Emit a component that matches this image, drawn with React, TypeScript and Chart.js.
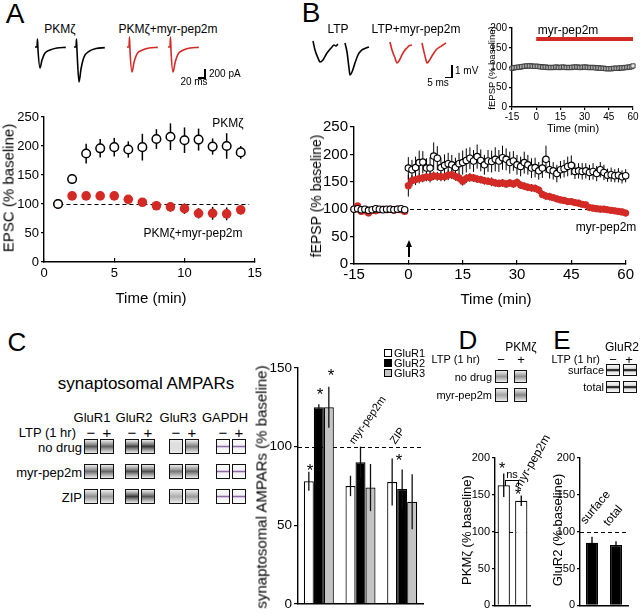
import React, { useEffect, useRef } from 'react';
import { Chart, registerables } from 'chart.js';

Chart.register(...registerables);

const FONT = "'Liberation Sans', Arial, Helvetica, sans-serif";
Chart.defaults.font.family = FONT;
Chart.defaults.color = '#000';
const RED = '#d42a26';

// ---------------- Panel A data ----------------
const aTime = [1, 2, 3, 4, 5, 6, 7, 8, 9, 10, 11, 12, 13, 14];
const aPkm = [100, 143, 187, 196, 198, 194, 198, 212, 216, 210, 211, 199, 200, 189];
const aPkmErr = [0, 0, 17, 16, 16, 14, 23, 17, 23, 22, 19, 14, 22, 11];
const aPep = [100, 114, 114, 114, 114, 108, 103, 97, 95, 92, 84, 84, 83, 90];
const aPepErr = [0, 2, 2, 2, 2, 3, 4, 5, 8, 9, 9, 11, 11, 8];

// EPSC traces (ms, pA)
const epscT = [0, 5.7, 7.1, 8.6, 14.3, 20, 28.6, 42.9, 62.9, 88];
const epscPkmBase = [0, 0, 200, -75, -525, -325, -150, -75, -25, -10];
const epscPkmLtp = [0, 0, 200, -100, -875, -550, -250, -110, -40, -15];
const epscPepBase = [0, 0, 250, -100, -625, -380, -170, -80, -25, -10];
const epscPepLtp = [0, 0, 250, -100, -625, -400, -180, -80, -25, -10];

// ---------------- Panel B data ----------------
const bTime = [-15, -14, -13, -12, -11, -10, -9, -8, -7, -6, -5, -4, -3, -2, -1,
  0, 1, 2, 3, 4, 5, 6, 7, 8, 9, 10, 11, 12, 13, 14, 15, 16, 17, 18, 19, 20,
  21, 22, 23, 24, 25, 26, 27, 28, 29, 30, 31, 32, 33, 34, 35, 36, 37, 38, 39, 40,
  41, 42, 43, 44, 45, 46, 47, 48, 49, 50, 51, 52, 53, 54, 55, 56, 57, 58, 59, 60];
const bLtp = [100, 101, 99, 100, 98, 99, 101, 100, 99, 100, 100, 99, 100, 101, 99,
  175, 172, 176, 185, 186, 175, 175, 197, 193, 176,
  180, 183, 181, 176, 183, 185, 189, 193, 188, 196,
  189, 181, 188, 187, 191, 188, 194, 191, 185, 188,
  181, 178, 185, 181, 175, 176, 170, 175, 191, 172,
  170, 165, 172, 174, 178, 180, 169, 170, 169, 170,
  167, 169, 165, 172, 167, 162, 163, 161, 162, 159, 161];
const bLtpErr = [3, 3, 3, 3, 3, 3, 3, 3, 3, 3, 3, 3, 3, 3, 3,
  20, 18, 20, 22, 20, 18, 20, 25, 22, 18,
  20, 20, 18, 18, 20, 22, 22, 20, 20, 22,
  20, 18, 20, 20, 22, 20, 22, 20, 20, 18,
  18, 18, 20, 18, 18, 18, 16, 18, 25, 16,
  16, 16, 16, 16, 18, 18, 14, 14, 15, 14,
  14, 15, 14, 14, 14, 12, 13, 12, 13, 12, 12];
const bPep = [100, 106, 96, 97, 93, 98, 97, 99, 100, 99, 100, 98, 100, 99, 96,
  143, 152, 154, 156, 157, 159, 158, 161, 160, 159,
  159, 162, 163, 160, 157, 151, 156, 158, 157, 155,
  154, 152, 151, 150, 148, 147, 148, 146, 148, 146,
  149, 144, 142, 140, 139, 138, 135, 127, 124, 123,
  121, 119, 117, 116, 114, 114, 112, 111, 109, 108,
  103, 102, 101, 100, 100, 99, 98, 97, 96, 95, 93];
const bPepErr = [4, 4, 4, 4, 4, 3, 3, 3, 3, 3, 3, 3, 3, 3, 4,
  20, 10, 10, 9, 8, 8, 9, 8, 8, 8,
  8, 9, 8, 8, 8, 8, 8, 8, 7, 7,
  7, 7, 7, 8, 7, 7, 7, 7, 7, 7,
  7, 7, 7, 7, 7, 7, 7, 7, 7, 7,
  6, 6, 6, 6, 6, 6, 6, 6, 6, 6,
  6, 6, 6, 6, 6, 6, 6, 6, 6, 6, 6];
const bCtrl = [98, 99, 100, 100, 101, 101, 102, 103, 103, 104, 104, 104, 104, 103, 103,
  103, 103, 102, 102, 101, 101, 101, 100, 100, 100,
  100, 100, 101, 101, 100, 100, 101, 101, 100, 100,
  100, 100, 100, 101, 101, 101, 101, 100, 100, 101,
  101, 101, 100, 100, 100, 100, 100, 99, 99, 99,
  98, 98, 98, 97, 97, 97, 97, 97, 98, 98,
  98, 98, 99, 99, 99, 100, 100, 101, 101, 102, 104];
const bDrugBar = [{ x: 0, y: 172 }, { x: 60, y: 172 }];

// fEPSP traces (ms, mV)
const fT1 = [0, 1.5, 3.75, 5.25, 7.5, 10.5, 14.25, 15.75, 17.25, 18.75];
const fV1 = [0, -0.75, -1.42, -1.75, -1.58, -1, -0.5, -0.33, -0.42, -0.25];
const fT2 = [0, 1.5, 3, 3.75, 5.25, 7.5, 9.75, 12.75, 15.75, 18];
const fV2 = [0, -0.75, -2.08, -2.67, -2.42, -1.67, -1, -0.58, -0.42, -0.33];
const fT3 = [0, 1.5, 3.75, 5.25, 6.75, 9, 11.25, 12.75, 14.25, 16.5];
const fV3 = [0, -0.67, -1.33, -1.75, -1.58, -1.08, -0.67, -0.5, -0.33, -0.25];
const fT4 = [0, 1.5, 3, 3.75, 5.25, 7.5, 10.5, 13.5, 15.75, 18];
const fV4 = [0, -0.75, -1.42, -1.67, -1.5, -1.08, -0.58, -0.33, -0.17, 0];

// ---------------- Panel C data ----------------
const cGroups = ['no drug', 'myr-pep2m', 'ZIP'];
const cGluR1 = [78, 75, 77.5];
const cGluR1Err = [6, 6.5, 15];
const cGluR2 = [125, 90, 73];
const cGluR2Err = [2, 10, 12.5];
const cGluR3 = [125, 74, 65];
const cGluR3Err = [13, 15, 17.5];

// ---------------- Panel D / E data ----------------
const dGroups = ['no drug', 'myr-pep2m'];
const dPkm = [163, 142];
const dPkmErr = [16, 7];
const eGroups = ['surface', 'total'];
const eGluR2 = [85, 82];
const eGluR2Err = [8, 5];

// ---------------- plugins ----------------
function drawErrors(chart: any, onTop: boolean) {
  const ctx = chart.ctx;
  chart.data.datasets.forEach((ds: any, i: number) => {
    const errs = ds.errors;
    if (!errs || !!ds.errorsOnTop !== onTop) return;
    const meta = chart.getDatasetMeta(i);
    const ys = chart.scales[meta.yAxisID];
    ctx.save();
    ctx.strokeStyle = ds.errorColor || '#000';
    ctx.lineWidth = ds.errorWidth || 1;
    meta.data.forEach((el: any, j: number) => {
      const e = errs[j];
      if (!e) return;
      const raw = ds.data[j];
      const v = typeof raw === 'number' ? raw : raw.y;
      const x = el.x;
      ctx.beginPath();
      ctx.moveTo(x, ys.getPixelForValue(v + e));
      ctx.lineTo(x, ys.getPixelForValue(v - e));
      ctx.stroke();
    });
    ctx.restore();
  });
}

const errorBars = {
  id: 'errorBars',
  beforeDatasetsDraw(chart: any) { drawErrors(chart, false); },
  afterDatasetsDraw(chart: any) { drawErrors(chart, true); },
};

const refLine = {
  id: 'refLine',
  beforeDatasetsDraw(chart: any, _args: any, opts: any) {
    if (!opts || opts.value === undefined) return;
    const { ctx, chartArea, scales } = chart;
    const y = Math.round(scales.y.getPixelForValue(opts.value)) + 0.5;
    const x0 = opts.from !== undefined ? scales.x.getPixelForValue(opts.from) : chartArea.left;
    const x1 = opts.to !== undefined ? scales.x.getPixelForValue(opts.to) : chartArea.right;
    ctx.save();
    ctx.strokeStyle = '#000';
    ctx.lineWidth = 1.2;
    ctx.setLineDash(opts.dash || [4, 3]);
    ctx.beginPath();
    ctx.moveTo(x0, y);
    ctx.lineTo(x1, y);
    ctx.stroke();
    ctx.restore();
  },
};

// ---------------- helpers ----------------
function yAxis(min: number, max: number, step: number, size: number, width: number, tl = 4, pad = 2) {
  return {
    type: 'linear', min, max,
    ticks: { stepSize: step, color: '#000', font: { family: FONT, size }, padding: pad },
    grid: { drawOnChartArea: false, drawTicks: true, tickLength: tl, color: '#000', lineWidth: 1.2 },
    border: { display: true, color: '#000', width: 1.4 },
    afterFit: (s: any) => { s.width = width; },
  };
}
function xLinear(min: number, max: number, step: number, size: number, height: number, tl = -4, pad = 8) {
  return {
    type: 'linear', min, max,
    ticks: { stepSize: step, color: '#000', font: { family: FONT, size }, padding: pad },
    grid: { drawOnChartArea: false, drawTicks: true, tickLength: tl, color: '#000', lineWidth: 1.2 },
    border: { display: true, color: '#000', width: 1.4 },
    afterFit: (s: any) => { s.height = height; },
  };
}
function xCat(height: number) {
  return {
    type: 'category',
    ticks: { display: false },
    grid: { display: false },
    border: { display: true, color: '#000', width: 1.4 },
    afterFit: (s: any) => { s.height = height; },
  };
}
const baseOpts = {
  responsive: false,
  maintainAspectRatio: false,
  animation: false,
  events: [],
  plugins: { legend: { display: false }, tooltip: { enabled: false } },
};

function pts(xs: number[], ys: number[]) {
  return xs.map((x, i) => ({ x, y: ys[i] }));
}

function ChartBox({ left, top, width, height, config }: any) {
  const ref = useRef<HTMLCanvasElement | null>(null);
  useEffect(() => {
    const c = new Chart(ref.current as any, config);
    return () => c.destroy();
  }, []);
  return (
    <canvas ref={ref} width={width} height={height}
      style={{ position: 'absolute', left, top, width, height }} />
  );
}

function Trace({ left, top, width, height, x0, y0, ppx, ppy, t, v, color, lw = 1.6 }: any) {
  const config = {
    type: 'line',
    data: {
      datasets: [{
        data: pts(t, v), borderColor: color, borderWidth: lw, pointRadius: 0,
        cubicInterpolationMode: 'monotone', clip: false,
      }],
    },
    options: {
      ...baseOpts,
      layout: { padding: 0 },
      scales: {
        x: { type: 'linear', display: false, min: -x0 / ppx, max: (width - x0) / ppx },
        y: { type: 'linear', display: false, min: -(height - y0) / ppy, max: y0 / ppy },
      },
    },
  };
  return <ChartBox left={left} top={top} width={width} height={height} config={config} />;
}

function T({ x, y, s = 12, a = 'c', rot = 0, children, style }: any) {
  const tx = a === 'c' ? '-50%' : a === 'r' ? '-100%' : '0';
  return (
    <div style={{
      position: 'absolute', left: x, top: y, fontFamily: FONT, fontSize: s, lineHeight: 1,
      whiteSpace: 'nowrap', color: '#000',
      transform: `translate(${tx},-50%) rotate(${rot}deg)`, ...style,
    }}>{children}</div>
  );
}

// asterisk positioned by its visual centre
function Star({ x, y, s = 17 }: any) {
  return <T x={x} y={y + s * 0.22} s={s}>*</T>;
}

function RotLabel({ x, y, s = 11, a = -55, children }: any) {
  return (
    <div style={{
      position: 'absolute', left: x, top: y - s, fontFamily: FONT, fontSize: s, lineHeight: 1,
      whiteSpace: 'nowrap', transformOrigin: '0% 100%', transform: `rotate(${a}deg)`,
    }}>{children}</div>
  );
}

function Line({ x, y, w, h }: any) {
  return <div style={{ position: 'absolute', left: x, top: y, width: w, height: h, background: '#000' }} />;
}

function Blot({ x, y, w = 14, h = 15, k = 0.6, kind = 'band' }: any) {
  let bg: string;
  if (kind === 'gapdh') {
    bg = 'linear-gradient(180deg, #fbfbfb 0%, #f3f1f4 38%, #c6acd4 46%, #8e67a6 50%, #c6acd4 55%, #f3f1f4 62%, #fbfbfb 100%)';
  } else if (kind === 'line') {
    bg = 'linear-gradient(180deg, #f6f6f6 0%, #e2e2e2 34%, #3a3a3a 44%, #111 50%, #3a3a3a 58%, #e2e2e2 68%, #f6f6f6 100%)';
  } else {
    const c = Math.round(250 - 215 * k);
    const m = Math.round(235 - 110 * k);
    bg = `linear-gradient(180deg, #ececec 0%, rgb(${m},${m},${m}) 30%, rgb(${c},${c},${c}) 50%, rgb(${m},${m},${m}) 70%, #ececec 100%)`;
  }
  return (
    <div style={{
      position: 'absolute', left: x, top: y, width: w, height: h, boxSizing: 'border-box',
      border: '1.6px solid #111', backgroundImage: bg,
    }} />
  );
}

// ---------------- charts ----------------
function PanelA() {
  const config = {
    type: 'scatter',
    data: {
      datasets: [
        {
          data: pts(aTime, aPkm), errors: aPkmErr, errorWidth: 1.5,
          pointRadius: 4.3, pointBackgroundColor: '#fff', pointBorderColor: '#000', pointBorderWidth: 1.5, clip: false,
        },
        {
          data: pts(aTime, aPep), errors: aPepErr, errorWidth: 1.5,
          pointRadius: 4.8, pointBackgroundColor: RED, pointBorderColor: RED, pointBorderWidth: 0, clip: false,
        },
      ],
    },
    options: {
      ...baseOpts,
      layout: { padding: { top: 17, right: 15, left: 0, bottom: 0 } },
      plugins: { ...baseOpts.plugins, refLine: { value: 100, from: 1.1, to: 14.6, dash: [4, 3] } },
      scales: {
        x: xLinear(0, 15, 5, 13, 48, -4, 8),
        y: yAxis(0, 250, 50, 13, 44, 3, 2),
      },
    },
    plugins: [errorBars, refLine],
  };
  return <ChartBox left={0} top={100} width={270} height={210} config={config} />;
}

function PanelB() {
  const config = {
    type: 'scatter',
    data: {
      datasets: [
        {
          data: pts(bTime, bLtp), errors: bLtpErr, errorWidth: 1,
          pointRadius: 3.2, pointBackgroundColor: '#fff', pointBorderColor: '#000', pointBorderWidth: 1.1, clip: false,
        },
        {
          data: pts(bTime, bPep), errors: bPepErr, errorWidth: 1,
          pointRadius: 3.6, pointBackgroundColor: RED, pointBorderColor: RED, pointBorderWidth: 0, clip: false,
        },
      ],
    },
    options: {
      ...baseOpts,
      layout: { padding: { top: 17, right: 7, left: 0, bottom: 0 } },
      plugins: { ...baseOpts.plugins, refLine: { value: 100, dash: [4, 3] } },
      scales: {
        x: xLinear(-15, 60, 15, 15, 46, -4, 6),
        y: yAxis(0, 250, 50, 15, 44, 4, 2),
      },
    },
    plugins: [errorBars, refLine],
  };
  return <ChartBox left={310} top={110} width={330} height={200} config={config} />;
}

function PanelBInset() {
  const config = {
    type: 'scatter',
    data: {
      datasets: [
        {
          type: 'line', data: bDrugBar, borderColor: RED, borderWidth: 4, pointRadius: 0, clip: false,
        },
        {
          data: pts(bTime, bCtrl), pointStyle: 'rect', pointRadius: 3,
          pointBackgroundColor: '#e4e4e4', pointBorderColor: '#333', pointBorderWidth: 0.9, clip: false,
        },
      ],
    },
    options: {
      ...baseOpts,
      layout: { padding: { top: 13, right: 7, left: 0, bottom: 0 } },
      scales: {
        x: xLinear(-15, 60, 15, 10, 18, 3, 1),
        y: yAxis(0, 200, 50, 10, 32, 3, 2),
      },
    },
  };
  return <ChartBox left={480} top={15} width={160} height={110} config={config} />;
}

function PanelC() {
  const bar = (data: number[], errs: number[], bg: string) => ({
    data, errors: errs, errorsOnTop: true, errorWidth: 1.3, errorColor: '#111',
    backgroundColor: bg, borderColor: '#000', borderWidth: 1.2,
    barPercentage: 1, categoryPercentage: 0.72,
  });
  const config = {
    type: 'bar',
    data: {
      labels: cGroups,
      datasets: [
        bar(cGluR1, cGluR1Err, '#ffffff'),
        bar(cGluR2, cGluR2Err, '#000000'),
        bar(cGluR3, cGluR3Err, '#c4c4c4'),
      ],
    },
    options: {
      ...baseOpts,
      layout: { padding: { top: 18, right: 7, left: 0, bottom: 0 } },
      plugins: { ...baseOpts.plugins, refLine: { value: 100, dash: [4, 3] } },
      scales: { x: xCat(7), y: yAxis(0, 150, 50, 13.5, 58, 4, 2) },
    },
    plugins: [errorBars, refLine],
  };
  return <ChartBox left={240} top={350} width={190} height={264} config={config} />;
}

function SmallBars({ left, width, yw, rp, labels, data, errs, bp, fill }: any) {
  const config = {
    type: 'bar',
    data: {
      labels,
      datasets: [{
        data, errors: errs, errorsOnTop: true, errorWidth: 1.3,
        backgroundColor: fill, borderColor: '#000', borderWidth: 1.2,
        barPercentage: bp, categoryPercentage: 1,
      }],
    },
    options: {
      ...baseOpts,
      layout: { padding: { top: 18, right: rp, left: 0, bottom: 0 } },
      plugins: { ...baseOpts.plugins, refLine: { value: 100, dash: [4, 3] } },
      scales: { x: xCat(7), y: yAxis(0, 200, 50, 11, yw, 3, 2) },
    },
    plugins: [errorBars, refLine],
  };
  return <ChartBox left={left} top={440} width={width} height={174} config={config} />;
}

// ---------------- app ----------------
const blotCols = [84, 100, 125, 141, 169, 185, 216, 232];
const blotRows = [439, 464, 489];
const blotK = [
  [0.75, 0.7, 0.85, 0.9, 0.12, 0.6],
  [0.65, 0.7, 0.8, 0.8, 0.6, 0.7],
  [0.5, 0.45, 0.9, 0.75, 0.35, 0.45],
];

export default function App() {
  return (
    <div style={{ position: 'absolute', left: 0, top: 0, width: 640, height: 614, background: '#fff', overflow: 'hidden' }}>
      {/* Panel letters */}
      <T x={15} y={14} s={28}>A</T>
      <T x={311} y={13} s={28}>B</T>
      <T x={17} y={342} s={26}>C</T>
      <T x={468} y={340} s={26}>D</T>
      <T x={562} y={340} s={26}>E</T>

      {/* ---------- A ---------- */}
      <T x={60} y={29} s={12}>PKMζ</T>
      <T x={168} y={29} s={12}>PKMζ+myr-pep2m</T>
      <Trace left={30} top={30} width={45} height={60} x0={5} y0={17} ppx={0.35} ppy={0.04} t={epscT} v={epscPkmBase} color="#000" />
      <Trace left={69} top={30} width={45} height={60} x0={5} y0={17} ppx={0.35} ppy={0.04} t={epscT} v={epscPkmLtp} color="#000" />
      <Trace left={122} top={30} width={45} height={60} x0={5} y0={17} ppx={0.35} ppy={0.04} t={epscT} v={epscPepBase} color={RED} />
      <Trace left={163} top={30} width={45} height={60} x0={5} y0={17} ppx={0.35} ppy={0.04} t={epscT} v={epscPepLtp} color={RED} />
      <Line x={204} y={69} w={1.5} h={9} />
      <Line x={198} y={77} w={7.5} h={1.5} />
      <T x={209} y={74} s={10} a="l">200 pA</T>
      <T x={194} y={82} s={10}>20 ms</T>
      <PanelA />
      <T x={228} y={123} s={12}>PKMζ</T>
      <T x={193} y={233} s={12}>PKMζ+myr-pep2m</T>
      <T x={8} y={188} s={15} rot={-90}>EPSC (% baseline)</T>
      <T x={151} y={297} s={15}>Time (min)</T>

      {/* ---------- B ---------- */}
      <T x={338} y={29} s={12}>LTP</T>
      <T x={416} y={29} s={12}>LTP+myr-pep2m</T>
      <Trace left={308} top={30} width={35} height={50} x0={5} y0={11} ppx={1.33} ppy={12} t={fT1} v={fV1} color="#000" />
      <Trace left={340} top={30} width={35} height={50} x0={5} y0={13} ppx={1.33} ppy={12} t={fT2} v={fV2} color="#000" />
      <Trace left={385} top={30} width={35} height={50} x0={5} y0={12} ppx={1.33} ppy={12} t={fT3} v={fV3} color={RED} />
      <Trace left={417} top={30} width={35} height={50} x0={5} y0={13} ppx={1.33} ppy={12} t={fT4} v={fV4} color={RED} />
      <Line x={451} y={65} w={1.5} h={13} />
      <Line x={445} y={76.5} w={7.5} h={1.5} />
      <T x={455} y={71} s={10} a="l">1 mV</T>
      <T x={438} y={83} s={10}>5 ms</T>
      <PanelBInset />
      <T x={568} y={30} s={12}>myr-pep2m</T>
      <T x={573} y={128} s={11}>Time (min)</T>
      <T x={492} y={68} s={9.5} rot={-90}>fEPSP (% baseline)</T>
      <PanelB />
      <T x={316} y={196} s={14} rot={-90}>fEPSP (% baseline)</T>
      <T x={496} y={298} s={15}>Time (min)</T>
      <T x={606} y={227} s={12}>myr-pep2m</T>
      <Line x={408.3} y={246} w={1.5} h={11} />
      <div style={{
        position: 'absolute', left: 405.5, top: 240, width: 0, height: 0,
        borderLeft: '3.5px solid transparent', borderRight: '3.5px solid transparent', borderBottom: '7px solid #000',
      }} />

      {/* ---------- C ---------- */}
      <T x={146} y={383} s={17}>synaptosomal AMPARs</T>
      <T x={92} y={417} s={13}>GluR1</T>
      <T x={134} y={417} s={13}>GluR2</T>
      <T x={178} y={417} s={13}>GluR3</T>
      <T x={225} y={417} s={13}>GAPDH</T>
      <T x={76} y={432} s={13} a="r">LTP (1 hr)</T>
      {blotCols.map((x, i) => (
        <T key={'s' + i} x={x + 7} y={432} s={15}>{i % 2 === 0 ? '−' : '+'}</T>
      ))}
      <T x={82} y={447} s={13} a="r">no drug</T>
      <T x={82} y={472} s={13} a="r">myr-pep2m</T>
      <T x={82} y={497} s={13} a="r">ZIP</T>
      {blotRows.map((y, r) => blotCols.map((x, c) => (
        <Blot key={r + '-' + c} x={x} y={y} k={c < 6 ? blotK[r][c] : 0} kind={c < 6 ? 'band' : 'gapdh'} />
      )))}
      <PanelC />
      <T x={261} y={487} s={15} rot={-90}>synaptosomal AMPARs (% baseline)</T>
      <Star x={310} y={466} />
      <Star x={320} y={390} />
      <Star x={331} y={371} />
      <Star x={399} y={456} />
      <RotLabel x={356} y={446} s={11} a={-55}>myr-pep2m</RotLabel>
      <RotLabel x={397} y={446} s={11} a={-55}>ZIP</RotLabel>
      {['#fff', '#000', '#c4c4c4'].map((c, i) => (
        <div key={'lg' + i} style={{
          position: 'absolute', left: 384, top: 349 + i * 10, width: 8, height: 8, boxSizing: 'border-box',
          border: '1px solid #000', background: c,
        }} />
      ))}
      <T x={394} y={353} s={11} a="l">GluR1</T>
      <T x={394} y={363} s={11} a="l">GluR2</T>
      <T x={394} y={373} s={11} a="l">GluR3</T>

      {/* ---------- D ---------- */}
      <T x={521} y={347} s={12}>PKMζ</T>
      <T x={480} y={359} s={11} a="r">LTP (1 hr)</T>
      <T x={501} y={359} s={13}>−</T>
      <T x={521} y={359} s={13}>+</T>
      <T x={492} y={377} s={11} a="r">no drug</T>
      <T x={492} y={395} s={11} a="r">myr-pep2m</T>
      <Blot x={495} y={370} w={13} h={13} k={0.45} />
      <Blot x={514} y={370} w={13} h={13} k={0.5} />
      <Blot x={495} y={388} w={13} h={14} k={0.4} />
      <Blot x={514} y={388} w={13} h={14} k={0.55} />
      <SmallBars left={470} width={70} yw={25} rp={10} labels={dGroups} data={dPkm} errs={dPkmErr} bp={0.7} fill="#ffffff" />
      <T x={466} y={530} s={13} rot={-90}>PKMζ (% baseline)</T>
      <T x={512} y={474} s={11}>ns</T>
      <Line x={505} y={480} w={14} h={1.2} />
      <Line x={505} y={480} w={1.2} h={6} />
      <Line x={518} y={480} w={1.2} h={6} />
      <Star x={502} y={465} s={16} />
      <Star x={518} y={491} s={16} />
      <RotLabel x={522} y={491} s={12} a={-60}>myr-pep2m</RotLabel>

      {/* ---------- E ---------- */}
      <T x={622} y={347} s={12}>GluR2</T>
      <T x={600} y={359} s={11} a="r">LTP (1 hr)</T>
      <T x={613} y={359} s={13}>−</T>
      <T x={629} y={359} s={13}>+</T>
      <T x={604} y={370} s={11} a="r">surface</T>
      <T x={604} y={387} s={11} a="r">total</T>
      <Blot x={606} y={364} w={14} h={12} kind="line" />
      <Blot x={623} y={364} w={14} h={12} kind="line" />
      <Blot x={606} y={381} w={14} h={12} kind="line" />
      <Blot x={623} y={381} w={14} h={12} kind="line" />
      <SmallBars left={550} width={86} yw={30} rp={8} labels={eGroups} data={eGluR2} errs={eGluR2Err} bp={0.5} fill="#000000" />
      <T x={557} y={530} s={13} rot={-90}>GluR2 (% baseline)</T>
      <RotLabel x={587} y={526} s={12} a={-50}>surface</RotLabel>
      <RotLabel x={610} y={528} s={12} a={-50}>total</RotLabel>
    </div>
  );
}
